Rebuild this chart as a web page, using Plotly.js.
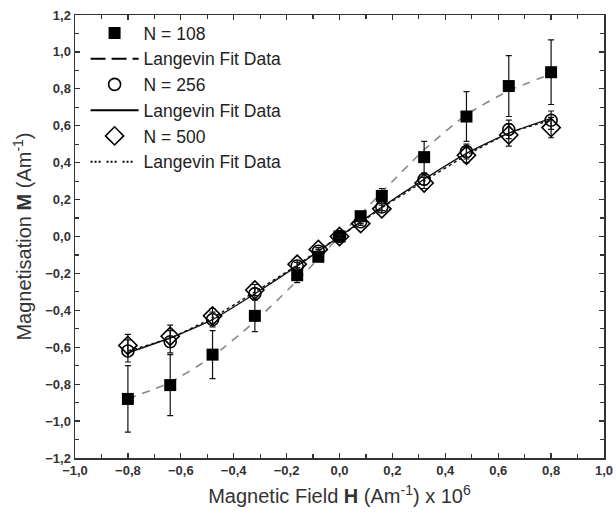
<!DOCTYPE html>
<html>
<head>
<meta charset="utf-8">
<script src="https://cdn.plot.ly/plotly-3.0.1.min.js"></script>
<style>html,body{margin:0;padding:0;background:#fff}#plot{width:616px;height:515px}</style>
</head>
<body>
<div id="plot"></div>
<script>
const fieldH = [-0.8, -0.64, -0.48, -0.32, -0.16, -0.08, 0, 0.08, 0.16, 0.32, 0.48, 0.64, 0.8];

const m108 = [-0.88, -0.805, -0.64, -0.43, -0.21, -0.11, 0, 0.11, 0.22, 0.43, 0.65, 0.815, 0.89];
const err108 = [0.18, 0.165, 0.13, 0.085, 0.04, 0.02, 0.01, 0.02, 0.04, 0.085, 0.135, 0.165, 0.175];
const fit108 = [-0.88, -0.79, -0.65, -0.46, -0.24, -0.12, 0, 0.12, 0.24, 0.47, 0.66, 0.79, 0.88];

const m256 = [-0.62, -0.57, -0.45, -0.31, -0.16, -0.08, 0, 0.08, 0.16, 0.31, 0.46, 0.58, 0.63];
const err256 = [0.06, 0.06, 0.04, 0.03, 0.02, 0.01, 0.01, 0.01, 0.02, 0.03, 0.04, 0.05, 0.05];
const fit256 = [-0.63, -0.55, -0.45, -0.31, -0.16, -0.08, 0, 0.08, 0.16, 0.31, 0.45, 0.56, 0.64];

const m500 = [-0.59, -0.54, -0.43, -0.29, -0.15, -0.07, 0, 0.07, 0.15, 0.29, 0.44, 0.55, 0.59];
const err500 = [0.06, 0.06, 0.04, 0.03, 0.02, 0.01, 0.01, 0.01, 0.02, 0.03, 0.04, 0.06, 0.055];
const fit500 = [-0.62, -0.55, -0.44, -0.30, -0.155, -0.075, 0, 0.075, 0.155, 0.30, 0.44, 0.56, 0.63];

const labels = ['N = 108', 'Langevin Fit Data', 'N = 256', 'Langevin Fit Data', 'N = 500', 'Langevin Fit Data'];

const eb = arr => ({type: 'data', array: arr, visible: true, color: '#111', thickness: 1.2, width: 3});

const traces = [
  {x: fieldH, y: fit108, mode: 'lines', line: {color: '#888', width: 1.6, dash: '8px,7px', shape: 'spline', smoothing: 0.5}, showlegend: false, hoverinfo: 'skip'},
  {x: fieldH, y: fit500, mode: 'lines', line: {color: '#111', width: 1.4, dash: 'dot', shape: 'spline', smoothing: 0.5}, showlegend: false, hoverinfo: 'skip'},
  {x: fieldH, y: fit256, mode: 'lines', line: {color: '#111', width: 1.4, shape: 'spline', smoothing: 0.5}, showlegend: false, hoverinfo: 'skip'},
  {x: fieldH, y: m108, mode: 'markers', name: labels[0], legendrank: 1,
   marker: {symbol: 'square', size: 12, color: '#000'}, error_y: eb(err108)},
  {x: fieldH, y: m256, mode: 'markers', name: labels[2], legendrank: 3,
   marker: {symbol: 'circle-open', size: 12, color: '#000', line: {width: 1.6}}, error_y: eb(err256)},
  {x: fieldH, y: m500, mode: 'markers', name: labels[4], legendrank: 5,
   marker: {symbol: 'diamond-open', size: 14, color: '#000', line: {width: 1.6}}, error_y: eb(err500)},
  {x: [null], y: [null], mode: 'lines', name: labels[1], legendrank: 2, line: {color: '#000', width: 2, dash: '15px,6px'}},
  {x: [null], y: [null], mode: 'lines', name: labels[3], legendrank: 4, line: {color: '#000', width: 2}},
  {x: [null], y: [null], mode: 'lines', name: labels[5], legendrank: 6, line: {color: '#000', width: 2, dash: '2px,2px,2px,2px,2px,6px'}}
];

const axisCommon = {
  range: [-1, 1], dtick: 0.2, tick0: 0, tickformat: '.1f',
  ticks: 'inside', ticklen: 5, tickwidth: 1.2, tickcolor: '#333',
  minor: {dtick: 0.1, ticks: 'inside', ticklen: 4, tickcolor: '#333'},
  showline: true, linecolor: '#333', linewidth: 1.5, mirror: 'allticks',
  showgrid: false, zeroline: false,
  tickfont: {family: 'Liberation Sans, Arial, sans-serif', size: 13, color: '#333', weight: 'bold'}
};

const layout = {
  width: 616, height: 515,
  margin: {l: 75, r: 12, t: 15, b: 57},
  separators: ', ',
  paper_bgcolor: '#fff', plot_bgcolor: '#fff',
  font: {family: 'Liberation Sans, Arial, sans-serif', color: '#333'},
  xaxis: Object.assign({}, axisCommon, {
    title: {text: 'Magnetic Field <b>H</b> (Am<sup>-1</sup>) x 10<sup>6</sup>', font: {size: 20, color: '#333'}, standoff: 12}
  }),
  yaxis: Object.assign({}, axisCommon, {
    range: [-1.2, 1.2],
    title: {text: 'Magnetisation <b>M</b> (Am<sup>-1</sup>)', font: {size: 20, color: '#333'}, standoff: 8}
  }),
  showlegend: true,
  legend: {x: 0.02, y: 1.0, xanchor: 'left', yanchor: 'top', bgcolor: 'rgba(0,0,0,0)',
    font: {size: 17.5, color: '#222', family: 'Liberation Sans, Arial, sans-serif'},
    traceorder: 'normal', itemwidth: 48, tracegroupgap: 0}
};

Plotly.newPlot('plot', traces, layout, {displayModeBar: false, staticPlot: true});
</script>
</body>
</html>
